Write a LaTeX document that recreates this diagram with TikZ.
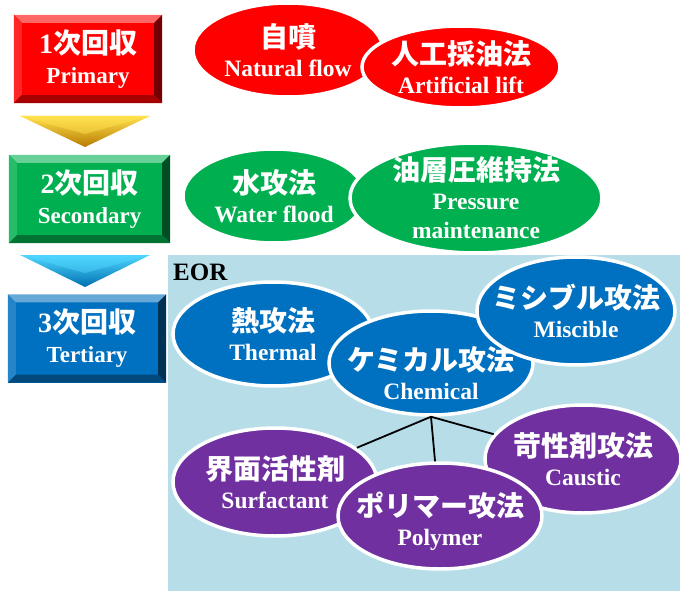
\documentclass[tikz,border=0pt]{standalone}
\usepackage{fontspec}
\setmainfont{Liberation Serif}
\newfontfamily\jp{Noto Sans CJK JP Bold}
\usetikzlibrary{shapes.geometric,calc}
\definecolor{redfill}{HTML}{FF0000}
\definecolor{greenfill}{HTML}{00B050}
\definecolor{bluefill}{HTML}{0070C0}
\definecolor{purplefill}{HTML}{7030A0}
\definecolor{eorbg}{HTML}{B7DEE8}
\definecolor{goldlight}{HTML}{FFE14D}
\definecolor{golddark}{HTML}{B87A00}
\definecolor{cyanlight}{HTML}{4FD6FF}
\definecolor{cyandark}{HTML}{0070B0}
\newcommand\jpbig{\jp\fontsize{28}{29}\selectfont}
\newcommand\stagetitle[1]{{\fontsize{28}{29}\selectfont #1\jp 次回収}}
% bevelled edges round a stage box
\newcommand\bevel[2]{
	\fill[#2!60!white] (#1.north west) -- (#1.north east) -- ++(-8,8) -- ($(#1.north west)+(8,8)$) -- cycle;
	\fill[#2!85!white] (#1.north west) -- (#1.south west) -- ++(8,-8) -- ($(#1.north west)+(8,8)$) -- cycle;
	\fill[#2!45!black] (#1.north east) -- (#1.south east) -- ++(-8,-8) -- ($(#1.north east)+(-8,8)$) -- cycle;
	\fill[#2!65!black] (#1.south west) -- (#1.south east) -- ++(-8,-8) -- ($(#1.south west)+(8,-8)$) -- cycle;
}
\tikzset{
	stagebox/.style={rectangle, minimum height=88, inner sep=0pt, text=white, align=center, font=\bfseries\fontsize{23}{30}\selectfont},
	oval/.style={ellipse, draw=white, line width=3.5pt, inner sep=0pt},
	ovaltext/.style={text=white, align=center, font=\bfseries\fontsize{23.5}{29}\selectfont},
}
\begin{document}
\begin{tikzpicture}[x=1pt,y=-1pt]
	\useasboundingbox (0,0) rectangle (680,591);
	\fill[eorbg] (168,255) rectangle (680,591);
	\node[anchor=base west, inner sep=0pt, font=\bfseries\fontsize{25}{28}\selectfont] (eor) at (173,280) {EOR};

	\node[stagebox, fill=redfill, minimum width=148] (prim) at (88,59) {\stagetitle{1}\\Primary};
	\bevel{prim}{redfill}
	\node[stagebox, fill=greenfill, minimum width=161] (sec) at (89.5,199) {\stagetitle{2}\\Secondary};
	\bevel{sec}{greenfill}
	\node[stagebox, fill=bluefill, minimum width=158] (ter) at (87,338.5) {\stagetitle{3}\\Tertiary};
	\bevel{ter}{bluefill}

	\shade[top color=goldlight, bottom color=golddark] (20,116) -- (150,116) -- (85,147) -- cycle;
	\shade[top color=goldlight, bottom color=goldlight!70!golddark] (20,116) -- (150,116) -- (85,134) -- cycle;
	\shade[top color=cyanlight, bottom color=cyandark] (20,255) -- (150,255) -- (85,287) -- cycle;
	\shade[top color=cyanlight, bottom color=cyanlight!70!cyandark] (20,255) -- (150,255) -- (85,273) -- cycle;

	\node[oval, fill=redfill, minimum width=190, minimum height=94] (natural) at (288,50) {};
	\node[ovaltext] (natural-t) at (natural) {{\jpbig 自噴}\\Natural flow};
	\node[oval, fill=redfill, minimum width=198, minimum height=82] (artif) at (461,67) {};
	\node[ovaltext] (artif-t) at (artif) {{\jpbig 人工採油法}\\Artificial lift};

	\node[oval, fill=greenfill, minimum width=182, minimum height=94] (water) at (274,196) {};
	\node[ovaltext] (water-t) at (water) {{\jpbig 水攻法}\\Water flood};
	\node[oval, fill=greenfill, minimum width=252, minimum height=110] (press) at (476,198) {};
	\node[ovaltext] (press-t) at (press) {{\jpbig 油層圧維持法}\\Pressure\\maintenance};

	\node[oval, fill=bluefill, minimum width=200, minimum height=104] (therm) at (273,334) {};
	\node[ovaltext] (therm-t) at (therm) {{\jpbig 熱攻法}\\Thermal};
	\node[oval, fill=bluefill, minimum width=204, minimum height=104] (chem) at (431,363) {};
	\node[ovaltext, yshift=-10pt] (chem-t) at (chem) {{\jpbig ケミカル攻法}\\Chemical};
	\node[oval, fill=bluefill, minimum width=198, minimum height=108] (misc) at (576,311) {};
	\node[ovaltext] (misc-t) at (misc) {{\jpbig ミシブル攻法}\\Miscible};

	\node[oval, fill=purplefill, minimum width=204, minimum height=108] (surf) at (275,482) {};
	\node[ovaltext] (surf-t) at (surf) {{\jpbig 界面活性剤}\\Surfactant};
	\node[oval, fill=purplefill, minimum width=196, minimum height=108] (caus) at (583,459) {};
	\node[ovaltext] (caus-t) at (caus) {{\jpbig 苛性剤攻法}\\Caustic};
	\node[oval, fill=purplefill, minimum width=204, minimum height=106] (poly) at (440,516) {};
	\node[ovaltext, yshift=-5pt] (poly-t) at (poly) {{\jpbig ポリマー攻法}\\Polymer};

	\draw[line width=1.8pt] (chem.south) -- (surf);
	\draw[line width=1.8pt] (chem.south) -- (poly);
	\draw[line width=1.8pt] (chem.south) -- (caus);
\end{tikzpicture}
\end{document}
